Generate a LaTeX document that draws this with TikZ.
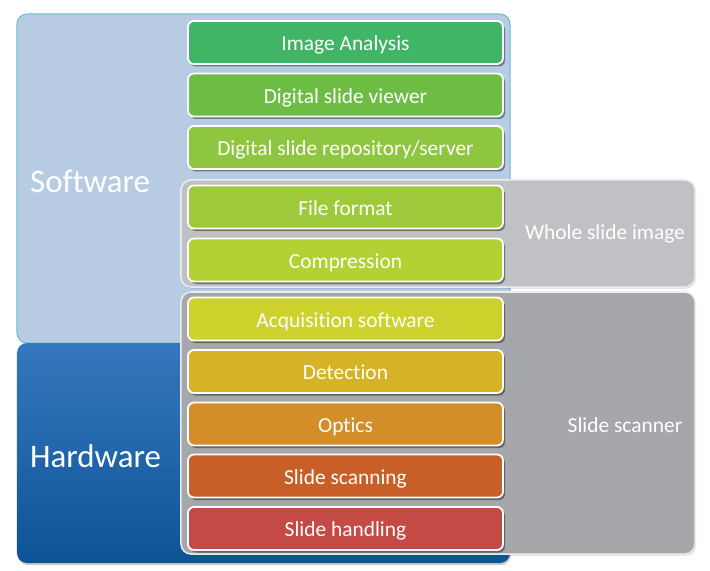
\documentclass[tikz,border=0pt]{standalone}
\usepackage{fontspec}
\setmainfont[Ligatures=NoCommon]{Carlito}
\usetikzlibrary{shadows}

\definecolor{swfill}{HTML}{B7CBE3}
\definecolor{swline}{HTML}{6CBBD4}
\definecolor{hwtop}{HTML}{3577BE}
\definecolor{hwbot}{HTML}{0D5496}
\definecolor{wsifill}{HTML}{C0C1C5}
\definecolor{scanfill}{HTML}{A6A7AA}
\definecolor{cIA}{HTML}{41B566}
\definecolor{cDV}{HTML}{6DBD45}
\definecolor{cDR}{HTML}{8EC63F}
\definecolor{cFF}{HTML}{9DC93B}
\definecolor{cCO}{HTML}{B2D234}
\definecolor{cAS}{HTML}{CDD22C}
\definecolor{cDE}{HTML}{D6B226}
\definecolor{cOP}{HTML}{D38E2A}
\definecolor{cSS}{HTML}{C85F28}
\definecolor{cSH}{HTML}{C44A46}

\tikzset{
  panel/.style={rounded corners=10bp, inner sep=0pt},
  groupbox/.style={draw=white!93!black, line width=1.5bp, rounded corners=10bp, inner sep=0pt,
    drop shadow={shadow xshift=1bp, shadow yshift=-1.5bp, fill=black, opacity=0.15}},
  layerbox/.style={draw=white, line width=1.8bp, rounded corners=6bp,
    minimum width=315bp, minimum height=43bp, inner sep=0pt, text=white,
    text height=17bp, text depth=0.5bp,
    font=\fontsize{21.5}{24}\selectfont,
    drop shadow={shadow xshift=2bp, shadow yshift=-2.5bp, fill=black, opacity=0.4}},
  biglabel/.style={text=white, anchor=west, inner sep=0pt, font=\fontsize{33}{38}\selectfont},
  grouplabel/.style={text=white, inner sep=0pt, font=\fontsize{21.5}{24}\selectfont},
}

\begin{document}
\begin{tikzpicture}[x=1bp, y=-1bp]
\useasboundingbox (0,0) rectangle (710,571);

% software and hardware panels
\node[panel, draw=swline, line width=1bp, fill=swfill,
      minimum width=493bp, minimum height=329bp] (sw) at (263.5,178.5) {};
\node[panel, top color=hwtop, bottom color=hwbot, draw=none,
      drop shadow={shadow xshift=1bp, shadow yshift=-2bp, fill=black, opacity=0.2},
      minimum width=493bp, minimum height=220bp] (hw) at (263.5,453) {};
\node[biglabel] (swlabel) at (30,181) {Software};
\node[biglabel] (hwlabel) at (30,456) {Hardware};

% grouping frames
\node[groupbox, fill=wsifill, minimum width=514bp, minimum height=107bp] (wsi) at (438,233.5) {};
\node[groupbox, fill=scanfill, minimum width=514bp, minimum height=262bp] (scan) at (438,423) {};
\node[grouplabel] (wsilabel) at (605,234) {Whole slide image};
\node[grouplabel] (scanlabel) at (625,425) {Slide scanner};

% layer boxes
\node[layerbox, fill=cIA] (ia) at (345.5,42.5) {Image Analysis};
\node[layerbox, fill=cDV] (dv) at (345.5,95) {Digital slide viewer};
\node[layerbox, fill=cDR] (dr) at (345.5,147.5) {Digital slide repository/server};
\node[layerbox, fill=cFF] (ff) at (345.5,207) {File format};
\node[layerbox, fill=cCO] (co) at (345.5,260) {Compression};
\node[layerbox, fill=cAS] (as) at (345.5,319) {Acquisition software};
\node[layerbox, fill=cDE] (de) at (345.5,371.5) {Detection};
\node[layerbox, fill=cOP] (op) at (345.5,424) {Optics};
\node[layerbox, fill=cSS] (ss) at (345.5,476) {Slide scanning};
\node[layerbox, fill=cSH] (sh) at (345.5,528.5) {Slide handling};
\end{tikzpicture}
\end{document}
